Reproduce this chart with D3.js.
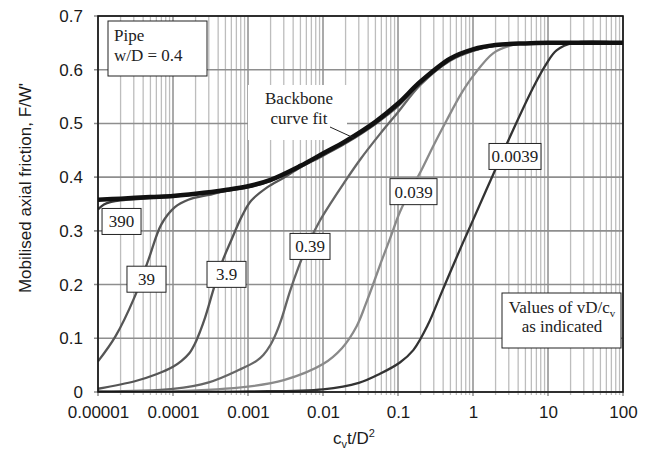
<!DOCTYPE html>
<html>
<head>
<meta charset="utf-8">
<script src="https://cdn.jsdelivr.net/npm/d3@7"></script>
<style>
  html, body { margin: 0; padding: 0; background: #fff; }
  svg { display: block; }
</style>
</head>
<body>
<svg id="chart" width="649" height="450"></svg>
<script>
// ---------- data ----------
const xTickValues = [1e-5, 1e-4, 1e-3, 1e-2, 1e-1, 1, 10, 100];
const xTickLabels = ["0.00001", "0.0001", "0.001", "0.01", "0.1", "1", "10", "100"];
const yTickValues = [0, 0.1, 0.2, 0.3, 0.4, 0.5, 0.6, 0.7];
const yTickLabels = ["0", "0.1", "0.2", "0.3", "0.4", "0.5", "0.6", "0.7"];

const backboneX = [1e-5, 2e-5, 5e-5, 1e-4, 2e-4, 5e-4, 1e-3, 2e-3, 5e-3, 1e-2, 2e-2, 5e-2, 0.1, 0.2, 0.5, 1, 2, 5, 10, 100];
const backboneY = [0.358, 0.360, 0.363, 0.365, 0.369, 0.376, 0.383, 0.395, 0.421, 0.444, 0.467, 0.503, 0.537, 0.578, 0.621, 0.638, 0.646, 0.649, 0.650, 0.650];

const s390X = [1e-5, 1.2e-5, 1.5e-5, 2e-5, 5e-5, 1e-4, 2e-4, 5e-4, 1e-3, 2e-3, 5e-3, 1e-2, 2e-2, 5e-2, 0.1, 0.2, 0.5, 1, 2, 5, 10, 100];
const s390Y = [0.340, 0.349, 0.354, 0.357, 0.361, 0.364, 0.368, 0.375, 0.382, 0.394, 0.420, 0.443, 0.466, 0.502, 0.535, 0.577, 0.620, 0.637, 0.646, 0.649, 0.650, 0.650];

const s39X = [1e-5, 1.7e-5, 3.1e-5, 4.7e-5, 7e-5, 1.06e-4, 1.6e-4, 3e-4, 5e-4, 1e-3, 2e-3, 5e-3, 1e-2, 2e-2, 5e-2, 0.1, 0.2, 0.5, 1, 2, 5, 10, 100];
const s39Y = [0.057, 0.103, 0.178, 0.246, 0.312, 0.344, 0.358, 0.367, 0.374, 0.381, 0.393, 0.419, 0.442, 0.465, 0.501, 0.534, 0.576, 0.620, 0.637, 0.646, 0.649, 0.650, 0.650];

const s3_9X = [1e-5, 3.1e-5, 6e-5, 1e-4, 1.3e-4, 1.65e-4, 1.96e-4, 2.3e-4, 2.67e-4, 3.45e-4, 4.46e-4, 6e-4, 8.2e-4, 1.1e-3, 1.8e-3, 3e-3, 5e-3, 1e-2, 2e-2, 5e-2, 0.1, 0.2, 0.5, 1, 2, 5, 10, 100];
const s3_9Y = [0.006, 0.020, 0.033, 0.047, 0.058, 0.072, 0.090, 0.113, 0.138, 0.190, 0.240, 0.283, 0.326, 0.356, 0.381, 0.399, 0.418, 0.440, 0.463, 0.499, 0.532, 0.575, 0.619, 0.636, 0.645, 0.649, 0.650, 0.650];

const s0_39X = [1e-5, 1e-4, 3e-4, 7.8e-4, 1.3e-3, 1.6e-3, 2e-3, 2.4e-3, 2.8e-3, 3.6e-3, 4.7e-3, 6.3e-3, 9e-3, 1.3e-2, 1.9e-2, 3.1e-2, 5.8e-2, 0.1, 0.2, 0.5, 1, 2, 5, 10, 100];
const s0_39Y = [0.001, 0.006, 0.018, 0.042, 0.058, 0.069, 0.088, 0.111, 0.136, 0.186, 0.232, 0.275, 0.318, 0.354, 0.389, 0.432, 0.481, 0.521, 0.572, 0.617, 0.635, 0.645, 0.649, 0.650, 0.650];

const s0_039X = [1e-5, 1e-4, 1e-3, 3e-3, 1e-2, 1.8e-2, 2.8e-2, 3.7e-2, 4.7e-2, 6e-2, 7.8e-2, 0.106, 0.15, 0.2, 0.3, 0.446, 0.7, 1, 1.87, 3.4, 5, 10, 100];
const s0_039Y = [0.000, 0.001, 0.010, 0.022, 0.052, 0.082, 0.122, 0.163, 0.202, 0.243, 0.285, 0.335, 0.378, 0.410, 0.460, 0.506, 0.556, 0.588, 0.631, 0.646, 0.649, 0.650, 0.650];

const s0_0039X = [1e-5, 1e-4, 1e-3, 1e-2, 3e-2, 5.75e-2, 0.106, 0.16, 0.25, 0.363, 0.5, 0.74, 1, 1.87, 3.4, 6.4, 9.6, 13, 21.7, 100];
const s0_0039Y = [0.000, 0.000, 0.001, 0.005, 0.017, 0.034, 0.055, 0.078, 0.125, 0.178, 0.224, 0.279, 0.320, 0.406, 0.487, 0.568, 0.612, 0.636, 0.650, 0.650];

const seriesNames = ["390", "39", "3.9", "0.39", "0.039", "0.0039"];
const seriesColors = ["#3a3a3a", "#555555", "#555555", "#666666", "#8a8a8a", "#333333"];
// label box anchors in data space (centre) and box widths
const labelAtX = [2.06e-5, 4.43e-5, 5.17e-4, 6.71e-3, 0.161, 3.63];
const labelAtY = [0.3175, 0.210, 0.219, 0.271, 0.373, 0.4385];
const labelBoxW = [39, 39, 39, 40, 47, 52];

// ---------- layout ----------
const svg = d3.select("#chart");
const margin = { left: 98, right: 26, top: 16, bottom: 58 };
const W = 649, H = 450;
const x = d3.scaleLog().domain([1e-5, 100]).range([margin.left, W - margin.right]);
const y = d3.scaleLinear().domain([0, 0.7]).range([H - margin.bottom, margin.top]);
const x0 = x.range()[0], x1 = x.range()[1], y0 = y.range()[0], y1 = y.range()[1];

const sans = "'Liberation Sans', Arial, sans-serif";
const serif = "'Liberation Serif', 'Times New Roman', serif";

// ---------- grid ----------
const minorTicks = [];
for (let e = -5; e < 2; e++) for (let m = 2; m <= 9; m++) minorTicks.push(m * Math.pow(10, e));
const grid = svg.append("g");
grid.selectAll("line.minor").data(minorTicks).join("line")
  .attr("x1", d => x(d)).attr("x2", d => x(d)).attr("y1", y1).attr("y2", y0 + 3)
  .attr("stroke", "#bdbdbd").attr("stroke-width", 1.3);
grid.selectAll("line.major").data(xTickValues).join("line")
  .attr("x1", d => x(d)).attr("x2", d => x(d)).attr("y1", y1).attr("y2", y0 + 4)
  .attr("stroke", "#8e8e8e").attr("stroke-width", 1.5);
grid.selectAll("line.h").data(yTickValues).join("line")
  .attr("x1", x0 - 4).attr("x2", x1).attr("y1", d => y(d)).attr("y2", d => y(d))
  .attr("stroke", "#8e8e8e").attr("stroke-width", 1.6);

// white background behind backbone label
svg.append("rect").attr("x", 248).attr("y", 85).attr("width", 99).attr("height", 55).attr("fill", "#fff");

// ---------- axes ----------
const xAxis = d3.axisBottom(x).tickValues(xTickValues).tickFormat((d, i) => xTickLabels[i]).tickSize(0).tickPadding(14);
const gx = svg.append("g").attr("transform", `translate(0,${y0})`).call(xAxis);
gx.select(".domain").remove();
gx.selectAll("text").attr("font-family", sans).attr("font-size", 17).attr("fill", "#1a1a1a");

const yAxis = d3.axisLeft(y).tickValues(yTickValues).tickFormat((d, i) => yTickLabels[i]).tickSize(0).tickPadding(15);
const gy = svg.append("g").attr("transform", `translate(${x0},0)`).call(yAxis);
gy.select(".domain").remove();
gy.selectAll("text").attr("font-family", sans).attr("font-size", 17).attr("fill", "#1a1a1a");

// ---------- curves ----------
const line = d3.line().x(d => x(d[0])).y(d => y(d[1])).curve(d3.curveCatmullRom.alpha(0.5));
const seriesX = [s390X, s39X, s3_9X, s0_39X, s0_039X, s0_0039X];
const seriesY = [s390Y, s39Y, s3_9Y, s0_39Y, s0_039Y, s0_0039Y];
svg.append("clipPath").attr("id", "clip").append("rect")
  .attr("x", x0).attr("y", y1 - 2).attr("width", x1 - x0).attr("height", y0 - y1 + 2);
const curves = svg.append("g").attr("clip-path", "url(#clip)");
seriesNames.forEach((n, i) => {
  const pts = seriesX[i].map((v, j) => [v, seriesY[i][j]]);
  curves.append("path").attr("d", line(pts)).attr("fill", "none")
    .attr("stroke", seriesColors[i]).attr("stroke-width", 2.3);
});
const bb = backboneX.map((v, j) => [v, backboneY[j]]);
curves.append("path").attr("d", line(bb)).attr("fill", "none")
  .attr("stroke", "#111").attr("stroke-width", 4.5);

// frame
svg.append("rect").attr("x", x0).attr("y", y1).attr("width", x1 - x0).attr("height", y0 - y1)
  .attr("fill", "none").attr("stroke", "#111").attr("stroke-width", 1.6);

// ---------- series label boxes ----------
seriesNames.forEach((n, i) => {
  const cx = x(labelAtX[i]), cy = y(labelAtY[i]);
  const w = labelBoxW[i], h = 26;
  svg.append("rect").attr("x", cx - w / 2).attr("y", cy - h / 2).attr("width", w).attr("height", h)
    .attr("fill", "#fff").attr("stroke", "#222").attr("stroke-width", 1);
  svg.append("text").attr("x", cx).attr("y", cy + 6).attr("text-anchor", "middle")
    .attr("font-family", serif).attr("font-size", 17).attr("fill", "#222").text(n);
});

// ---------- annotations ----------
svg.append("rect").attr("x", 108).attr("y", 21).attr("width", 99).attr("height", 55)
  .attr("fill", "#fff").attr("stroke", "#222").attr("stroke-width", 1);
svg.append("text").attr("x", 114).attr("y", 41).attr("font-family", serif).attr("font-size", 17).attr("fill", "#222").text("Pipe");
svg.append("text").attr("x", 114).attr("y", 61).attr("font-family", serif).attr("font-size", 17).attr("fill", "#222").text("w/D = 0.4");

svg.append("text").attr("x", 299).attr("y", 104).attr("text-anchor", "middle").attr("font-family", serif).attr("font-size", 17).attr("fill", "#222").text("Backbone");
svg.append("text").attr("x", 299).attr("y", 124).attr("text-anchor", "middle").attr("font-family", serif).attr("font-size", 17).attr("fill", "#222").text("curve fit");
svg.append("line").attr("x1", 330).attr("y1", 127).attr("x2", 354).attr("y2", 138).attr("stroke", "#222").attr("stroke-width", 1);

svg.append("rect").attr("x", 502).attr("y", 293).attr("width", 119).attr("height", 55)
  .attr("fill", "#fff").attr("stroke", "#222").attr("stroke-width", 1);
const vt = svg.append("text").attr("x", 562).attr("y", 313).attr("text-anchor", "middle").attr("font-family", serif).attr("font-size", 17).attr("fill", "#222");
vt.append("tspan").text("Values of vD/c");
vt.append("tspan").attr("font-size", 11).attr("dy", 4).text("v");
svg.append("text").attr("x", 562).attr("y", 332).attr("text-anchor", "middle").attr("font-family", serif).attr("font-size", 17).attr("fill", "#222").text("as indicated");

// axis titles
const xt = svg.append("text").attr("x", 354).attr("y", 444).attr("text-anchor", "middle")
  .attr("font-family", sans).attr("font-size", 17).attr("fill", "#1a1a1a");
xt.append("tspan").text("c");
xt.append("tspan").attr("font-size", 11).attr("dy", 4).text("v");
xt.append("tspan").attr("dy", -4).text("t/D");
xt.append("tspan").attr("font-size", 11).attr("dy", -7).text("2");

svg.append("text").attr("transform", "translate(31,188) rotate(-90)").attr("text-anchor", "middle")
  .attr("font-family", sans).attr("font-size", 17).attr("fill", "#1a1a1a").text("Mobilised axial friction, F/W'");
</script>
</body>
</html>
